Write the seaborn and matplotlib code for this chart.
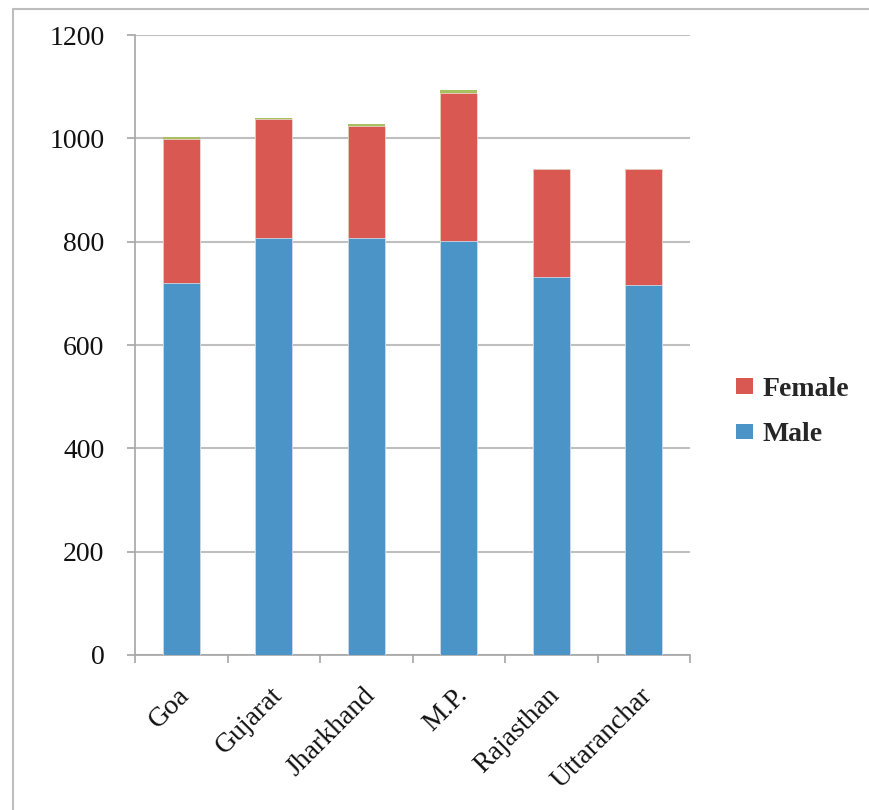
import matplotlib
matplotlib.use("Agg")
import matplotlib.pyplot as plt
from matplotlib.patches import Patch
from matplotlib.lines import Line2D
import matplotlib.transforms as mtransforms
import pandas as pd
import seaborn as sns

# State-wise counts
states = ["Goa", "Gujarat", "Jharkhand", "M.P.", "Rajasthan", "Uttaranchar"]
male = [720, 807, 807, 801, 731, 716]
female = [279, 230, 217, 286, 210, 225]
other = [3, 3, 3, 6, 0, 0]

blue = "#4A94C8"
red = "#D95852"
green = "#A8C060"
grid_col = "#BFBFBF"
axis_col = "#A6A6A6"

df = pd.DataFrame({"state": states, "male": male, "female": female, "other": other})
df["male_female"] = df["male"] + df["female"]
df["total"] = df["male_female"] + df["other"]

sns.set_theme(style="white")
plt.rcParams["font.family"] = ["Liberation Serif", "DejaVu Serif"]

fig = plt.figure(figsize=(8.69, 8.10), dpi=100)
ax = fig.add_axes([135 / 869, 1 - 655 / 810, (690 - 135) / 869, (655 - 35) / 810])

# Stacked bars: totals first, then partial sums drawn over them
sns.barplot(data=df, x="state", y="total", color=green, saturation=1, width=0.4,
            edgecolor="none", ax=ax, zorder=3)
sns.barplot(data=df, x="state", y="male_female", color=red, saturation=1, width=0.4,
            edgecolor="#F4E0DF", linewidth=0.5, ax=ax, zorder=3)
sns.barplot(data=df, x="state", y="male", color=blue, saturation=1, width=0.4,
            edgecolor="#DCE9F4", linewidth=0.5, ax=ax, zorder=3)

ax.set_ylim(0, 1200)
ax.set_xlim(-0.5, len(states) - 0.5)
ax.set_yticks(range(0, 1201, 200))
ax.set_xlabel("")
ax.set_ylabel("")

# Horizontal gridlines
ax.yaxis.grid(True, color=grid_col, linewidth=1.5, zorder=0)
ax.xaxis.grid(False)
ax.set_axisbelow(True)

for side in ["top", "right"]:
    ax.spines[side].set_visible(False)
for side in ["left", "bottom"]:
    ax.spines[side].set_visible(True)
    ax.spines[side].set_color(axis_col)
    ax.spines[side].set_linewidth(1.2)

ax.tick_params(axis="y", which="major", direction="out", length=6, width=1.2,
               color=axis_col, labelsize=20, pad=16, left=True)
ax.tick_params(axis="x", which="major", length=0, labelsize=20, pad=20)

# Category separator ticks below the x axis
ax.set_xticks([i - 0.5 for i in range(len(states) + 1)], minor=True)
ax.tick_params(axis="x", which="minor", direction="out", length=6, width=1.2,
               color=axis_col, bottom=True)

ax.set_xticks(range(len(states)))
ax.set_xticklabels(states, rotation=45, ha="right", rotation_mode="anchor")
shift = mtransforms.ScaledTranslation(-3 / 72, 0, fig.dpi_scale_trans)
for lbl in ax.get_xticklabels():
    lbl.set_color("#111111")
    lbl.set_transform(lbl.get_transform() + shift)
for lbl in ax.get_yticklabels():
    lbl.set_color("#111111")

handles = [Patch(facecolor=red, edgecolor="none", label="Female"),
           Patch(facecolor=blue, edgecolor="none", label="Male")]
fig.legend(handles=handles, loc="center left", bbox_to_anchor=(711 / 869, 1 - 412 / 810),
           frameon=False, handlelength=0.6, handleheight=0.5,
           handletextpad=0.35, labelspacing=0.75,
           prop={"family": ["Liberation Serif"], "weight": "bold", "size": 20})

# Outer frame lines (top and left)
fig.add_artist(Line2D([13 / 869, 1], [1 - 9 / 810, 1 - 9 / 810], color="#BDBDBD",
                      linewidth=1.5, transform=fig.transFigure))
fig.add_artist(Line2D([13 / 869, 13 / 869], [0, 1 - 9 / 810], color="#BDBDBD",
                      linewidth=1.5, transform=fig.transFigure))

fig.savefig("out.png", dpi=100, facecolor="white")
